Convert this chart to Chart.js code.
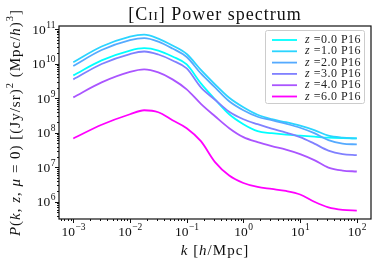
<!DOCTYPE html>
<html>
<head>
<meta charset="utf-8">
<script src="https://cdn.jsdelivr.net/npm/chart.js@4.4.1/dist/chart.umd.min.js"></script>
<style>
  html, body { margin: 0; padding: 0; background: #fff; }
  #wrap { width: 380px; height: 266px; }
</style>
</head>
<body>
<div id="wrap"><canvas id="chart" width="380" height="266"></canvas></div>
<script>
// k in h/Mpc
const kValues = [1e-3, 3.16e-3, 1e-2, 1.78e-2, 3.16e-2, 5.62e-2, 0.1, 0.178, 0.316, 0.562,
  1, 1.78, 3.16, 5.62, 10, 17.8, 31.6, 56.2, 100];

// P(k), one list per redshift
const pZ0 = [4.57e9, 1.24e10, 2.40e10, 2.80e10, 2.40e10, 1.61e10, 9.48e9, 2.69e9, 9.29e8, 3.44e8,
  1.77e8, 1.11e8, 9.73e7, 8.81e7, 8.24e7, 7.72e7, 7.22e7, 6.98e7, 6.85e7];
const pZ1 = [1.10e10, 3.13e10, 6.08e10, 6.94e10, 5.32e10, 3.35e10, 1.90e10, 6.58e9, 2.52e9, 1.03e9,
  5.47e8, 3.32e8, 2.47e8, 2.02e8, 1.60e8, 1.19e8, 8.24e7, 7.22e7, 6.85e7];
const pZ2 = [8.59e9, 2.48e10, 4.82e10, 5.50e10, 4.36e10, 2.74e10, 1.56e10, 5.22e9, 2.06e9, 8.15e8,
  4.48e8, 2.91e8, 2.31e8, 1.83e8, 1.40e8, 9.73e7, 6.12e7, 4.85e7, 4.60e7];
const pZ3 = [3.51e9, 9.80e9, 1.90e10, 2.25e10, 1.84e10, 1.24e10, 7.28e9, 2.06e9, 9.00e8, 4.06e8,
  2.47e8, 1.77e8, 1.31e8, 1.01e8, 7.47e7, 4.85e7, 3.05e7, 2.42e7, 2.26e7];
const pZ4 = [1.06e9, 2.87e9, 5.77e9, 6.81e9, 5.57e9, 3.51e9, 1.80e9, 6.90e8, 3.01e8, 1.36e8,
  7.47e7, 5.36e7, 4.11e7, 3.26e7, 2.42e7, 1.62e7, 9.86e6, 8.09e6, 7.57e6];
const pZ6 = [6.85e7, 1.71e8, 3.44e8, 4.48e8, 3.93e8, 2.31e8, 1.36e8, 5.73e7, 1.42e7, 5.80e6,
  3.53e6, 2.70e6, 2.37e6, 2.07e6, 1.64e6, 1.01e6, 6.93e5, 5.88e5, 5.61e5];

const series = [pZ0, pZ1, pZ2, pZ3, pZ4, pZ6];
const redshifts = ['0.0', '1.0', '2.0', '3.0', '4.0', '6.0'];
const lineColors = ['#00ffff', '#2bd4ff', '#55aaff', '#8080ff', '#aa55ff', '#ff00ff'];

const xTicks = [1e-3, 1e-2, 1e-1, 1, 10, 100];
const yTicks = [1e6, 1e7, 1e8, 1e9, 1e10, 1e11];

const SERIF = '"Liberation Serif", "DejaVu Serif", serif';

function exponentOf(v) {
  return String(Math.round(Math.log10(v))).replace('-', '\u2212');
}

// draw a run of text pieces with their own fonts, centred on (cx, cy)
function drawRich(ctx, segs, cx, cy, angle, spacing) {
  ctx.save();
  ctx.translate(cx, cy);
  ctx.rotate(angle || 0);
  ctx.textBaseline = 'alphabetic';
  ctx.textAlign = 'left';
  ctx.letterSpacing = (spacing || 0) + 'px';
  let total = 0;
  segs.forEach(s => { ctx.font = s.font; s.w = ctx.measureText(s.text).width; total += s.w; });
  let x = -total / 2;
  segs.forEach(s => {
    ctx.font = s.font;
    ctx.fillText(s.text, x, s.dy || 0);
    x += s.w;
  });
  ctx.restore();
}

// "10" with a raised exponent; anchor 'center' or 'right'
function drawPower(ctx, v, x, baseY, anchor) {
  const base = '10', exp = exponentOf(v);
  ctx.font = '13.5px ' + SERIF;
  const wb = ctx.measureText(base).width;
  ctx.font = '9.5px ' + SERIF;
  const we = ctx.measureText(exp).width;
  const start = anchor === 'right' ? x - wb - we : x - (wb + we) / 2;
  ctx.font = '13.5px ' + SERIF;
  ctx.fillText(base, start, baseY);
  ctx.font = '9.5px ' + SERIF;
  ctx.fillText(exp, start + wb + 0.5, baseY - 6);
}

const decorations = {
  id: 'decorations',
  afterDraw(chart) {
    const { ctx, chartArea: a, scales } = chart;
    ctx.save();
    ctx.fillStyle = '#111';
    ctx.strokeStyle = '#111';

    // tick marks, major and minor, outward on left and bottom
    ctx.lineWidth = 1;
    const xs = scales.x, ys = scales.y;
    for (let e = -4; e <= 2; e++) {
      for (let m = 1; m <= 9; m++) {
        const v = m * Math.pow(10, e);
        if (v < xs.min || v > xs.max) continue;
        const px = Math.round(xs.getPixelForValue(v)) + 0.5;
        const len = m === 1 ? 4 : 2;
        ctx.beginPath(); ctx.moveTo(px, a.bottom); ctx.lineTo(px, a.bottom + len); ctx.stroke();
      }
    }
    for (let e = 5; e <= 11; e++) {
      for (let m = 1; m <= 9; m++) {
        const v = m * Math.pow(10, e);
        if (v < ys.min || v > ys.max) continue;
        const py = Math.round(ys.getPixelForValue(v)) + 0.5;
        const len = m === 1 ? 4 : 2;
        ctx.beginPath(); ctx.moveTo(a.left, py); ctx.lineTo(a.left - len, py); ctx.stroke();
      }
    }

    // tick labels
    ctx.textBaseline = 'alphabetic';
    ctx.textAlign = 'left';
    xTicks.forEach(v => drawPower(ctx, v, xs.getPixelForValue(v), 235.5, 'center'));
    yTicks.forEach(v => drawPower(ctx, v, 55, ys.getPixelForValue(v) + 4.5, 'right'));

    // frame
    ctx.lineWidth = 1.2;
    ctx.strokeRect(a.left, a.top, a.right - a.left, a.bottom - a.top);

    // title
    const cx = (a.left + a.right) / 2;
    drawRich(ctx, [
      { text: '[C', font: '18px ' + SERIF },
      { text: 'II', font: '13px ' + SERIF },
      { text: '] Power spectrum', font: '18px ' + SERIF }
    ], cx, 19.5, 0, 1);

    // x axis title
    drawRich(ctx, [
      { text: 'k', font: 'italic 15px ' + SERIF },
      { text: ' [', font: '15px ' + SERIF },
      { text: 'h', font: 'italic 15px ' + SERIF },
      { text: '/Mpc]', font: '15px ' + SERIF }
    ], cx, 254.5, 0, 1);

    // y axis title
    const f = '15px ' + SERIF, fi = 'italic 15px ' + SERIF, fs = '10.5px ' + SERIF;
    drawRich(ctx, [
      { text: 'P', font: fi }, { text: '(', font: f }, { text: 'k', font: fi },
      { text: ', ', font: f }, { text: 'z', font: fi }, { text: ', ', font: f },
      { text: '\u03BC', font: fi }, { text: ' = 0) [(Jy/sr)', font: f },
      { text: '2', font: fs, dy: -6.5 }, { text: ' (Mpc/', font: f },
      { text: 'h', font: fi }, { text: ')', font: f }, { text: '3', font: fs, dy: -6.5 },
      { text: ']', font: f }
    ], 19.5, (a.top + a.bottom) / 2, -Math.PI / 2, 1);

    // legend
    const lx = 265.5, ly = 30.5, lw = 99, lh = 73;
    ctx.beginPath();
    ctx.roundRect(lx, ly, lw, lh, 2);
    ctx.fillStyle = 'rgba(255,255,255,0.8)';
    ctx.fill();
    ctx.strokeStyle = '#cccccc';
    ctx.lineWidth = 1;
    ctx.stroke();
    chart.data.datasets.forEach((ds, i) => {
      const ry = 40 + i * 11.3;
      ctx.strokeStyle = ds.borderColor;
      ctx.lineWidth = 1.8;
      ctx.beginPath(); ctx.moveTo(272, ry); ctx.lineTo(297, ry); ctx.stroke();
      ctx.fillStyle = '#222';
      ctx.textBaseline = 'middle';
      ctx.textAlign = 'left';
      ctx.letterSpacing = '0.5px';
      ctx.font = 'italic 12px ' + SERIF;
      ctx.fillText('z', 305, ry);
      const zw = ctx.measureText('z ').width;
      ctx.font = '12px ' + SERIF;
      ctx.fillText('=' + redshifts[i] + ' P16', 305 + zw, ry);
      ctx.letterSpacing = '0px';
    });
    ctx.restore();
  }
};

const datasets = series.map((vals, i) => ({
  label: 'z =' + redshifts[i] + ' P16',
  data: kValues.map((k, j) => ({ x: k, y: vals[j] })),
  borderColor: lineColors[i],
  borderWidth: 1.8,
  pointRadius: 0,
  fill: false,
  cubicInterpolationMode: 'monotone',
  order: series.length - i
}));

new Chart(document.getElementById('chart'), {
  type: 'line',
  data: { datasets },
  options: {
    responsive: false,
    animation: false,
    devicePixelRatio: 1,
    layout: { padding: { left: 0, right: 9, top: 26, bottom: 0 } },
    plugins: { legend: { display: false }, title: { display: false }, tooltip: { enabled: false } },
    scales: {
      x: {
        type: 'logarithmic',
        min: 5.6e-4,
        max: 1.78e2,
        grid: { display: false },
        border: { display: false },
        afterBuildTicks: s => { s.ticks = xTicks.map(v => ({ value: v })); },
        afterFit: s => { s.height = 47; },
        ticks: { display: false }
      },
      y: {
        type: 'logarithmic',
        min: 3.2e5,
        max: 1.23e11,
        grid: { display: false },
        border: { display: false },
        afterBuildTicks: s => { s.ticks = yTicks.map(v => ({ value: v })); },
        afterFit: s => { s.width = 59; },
        ticks: { display: false }
      }
    }
  },
  plugins: [decorations]
});
</script>
</body>
</html>
